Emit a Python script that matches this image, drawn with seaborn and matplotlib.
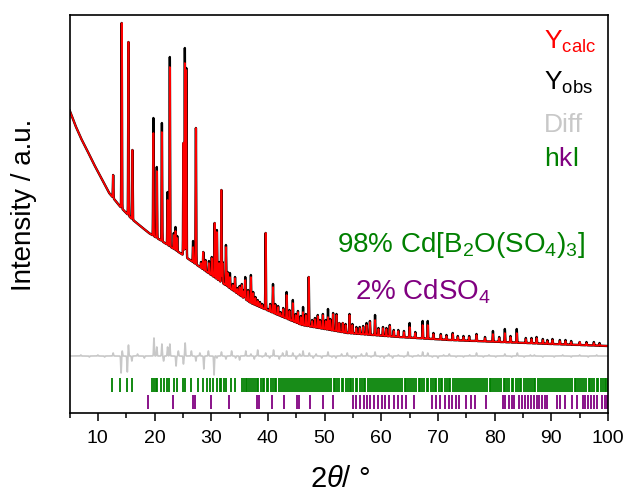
import numpy as np
import pandas as pd
import matplotlib
matplotlib.use("Agg")
import matplotlib.pyplot as plt
import seaborn as sns

# background of the pattern (2theta, intensity)
bg_tt = [5, 6, 7, 8, 9.2, 10.5, 12, 14, 16, 19, 21, 24.5, 28, 32, 37, 41, 46, 50, 54, 63, 72, 81, 90, 100]
bg_int = [303, 288, 275, 264, 250, 236, 220, 206, 194, 180, 173, 160, 146, 130, 110, 100, 88, 84, 80, 76, 73, 71, 69, 67]

# reflections: position, top of Ycalc, top of Yobs
peak_tt = [12.7, 14.2, 15.4, 16.1, 19.8, 20.4, 21.3, 22.3, 22.7, 23.4, 23.7, 24.0,
           25.1, 25.35, 25.6, 26.8, 27.3, 28.2, 28.6, 29.0, 29.6, 30.1, 30.6, 31.0,
           31.4, 31.8, 32.0, 32.6, 32.9, 33.3, 33.8, 34.2, 34.6, 35.0, 35.4, 35.8,
           36.0, 36.5, 37.0, 37.4, 37.8, 38.2, 38.6, 39.0, 39.6, 40.0, 40.4, 40.9,
           41.3, 41.8, 42.2, 42.7, 43.3, 43.8, 44.4, 44.9, 45.3, 45.8, 46.2, 46.7,
           47.2, 47.8, 48.3, 48.8, 49.2, 49.7, 50.2, 50.6, 51.0, 51.5, 52.1, 52.6,
           53.2, 53.7, 54.4, 54.9, 55.6, 56.2, 56.8, 57.4, 58.0, 58.9, 59.5, 60.3,
           60.9, 61.5, 62.2, 63.0, 64.0, 65.0, 66.0, 67.3, 68.2, 69.2, 70.5, 71.5,
           72.6, 73.5, 74.5, 75.5, 76.8, 78.3, 79.7, 80.8, 81.8, 82.8, 83.9, 85.5,
           86.5, 87.4, 88.5, 89.3, 90.2, 91.5, 92.5, 93.5, 95.0, 96.2, 97.5, 98.5]
calc_top = [238, 390, 371, 263, 280, 242, 281, 213, 346, 178, 182, 175,
            270, 350, 343, 166, 285, 150, 161, 152, 150, 155, 190, 181,
            150, 223, 150, 166, 140, 136, 128, 135, 124, 126, 128, 122,
            133, 122, 136, 120, 115, 112, 110, 108, 180, 103, 108, 126,
            108, 106, 100, 104, 118, 102, 110, 98, 101, 96, 101, 98,
            136, 92, 94, 97, 92, 98, 92, 96, 93, 99, 98, 90,
            90, 88, 98, 88, 85, 85, 86, 88, 91, 93, 84, 85,
            84, 87, 82, 82, 81, 86, 80, 88, 88, 79, 78, 77,
            79, 76, 76, 76, 78, 75, 79, 75, 80, 76, 80, 74,
            74, 75, 73, 72, 73, 72, 72, 71, 71, 70, 70, 69]
obs_top = [238, 390, 371, 263, 295, 246, 290, 221, 356, 180, 186, 177,
           270, 365, 345, 172, 285, 151, 161, 153, 152, 156, 190, 183,
           151, 223, 151, 168, 141, 140, 129, 136, 125, 127, 129, 123,
           136, 123, 138, 121, 116, 113, 111, 109, 180, 104, 109, 129,
           109, 107, 101, 105, 121, 103, 113, 99, 102, 97, 106, 99,
           136, 93, 95, 98, 93, 99, 93, 104, 94, 100, 99, 90,
           90, 89, 99, 89, 86, 86, 87, 90, 92, 98, 85, 86,
           85, 88, 83, 83, 82, 90, 81, 92, 92, 80, 79, 78,
           80, 77, 77, 77, 79, 76, 82, 76, 84, 77, 84, 75,
           75, 76, 74, 73, 74, 73, 73, 72, 71, 71, 71, 70]

# difference curve
diff_base = 57
diff_tt = [7.0, 8.5, 10.0, 11.2, 12.7, 14.1, 14.3, 15.2, 15.4, 16.0, 17.0, 18.2,
           19.9, 20.4, 21.3, 21.6, 22.3, 22.7, 23.8, 24.2, 25.1, 25.4, 26.5, 27.3,
           28.0, 28.7, 29.5, 30.5, 31.0, 31.8, 32.6, 33.6, 34.3, 35.0, 36.1, 37.0,
           37.6, 38.2, 39.0, 39.6, 40.3, 41.0, 42.0, 42.6, 43.3, 44.4, 45.0, 45.6,
           46.2, 47.3, 48.0, 48.5, 49.5, 50.6, 51.3, 52.0, 53.0, 54.0, 54.8, 55.5,
           56.5, 57.4, 58.2, 58.9, 59.8, 60.5, 61.3, 62.0, 63.0, 64.0, 64.7, 65.5,
           66.5, 67.3, 68.2, 69.0, 70.0, 71.0, 72.0, 73.2, 74.5, 75.6, 76.8, 78.0,
           79.0, 80.2, 81.8, 83.0, 84.0, 85.2, 86.3, 87.0, 88.5, 90.5, 92.0, 93.5,
           95.0, 96.5, 98.0, 99.2]
diff_val = [58, 56, 58, 56, 60, 40, 62, 41, 68, 52, 59, 55,
            75, 66, 69, 52, 66, 69, 47, 62, 49, 70, 62, 52,
            60, 44, 62, 38, 55, 61, 54, 62, 55, 53, 62, 59,
            54, 63, 56, 60, 55, 63, 54, 60, 62, 60, 54, 59,
            62, 60, 55, 59, 55, 61, 56, 55, 59, 60, 55, 55,
            59, 60, 56, 61, 56, 55, 59, 55, 58, 56, 61, 56,
            58, 61, 60, 56, 55, 58, 59, 56, 56, 58, 60, 56,
            58, 56, 59, 56, 60, 56, 58, 58, 56, 56, 58, 56,
            58, 56, 58, 57]

# tick marks of the two phases
hkl_main = [12.5, 13.9, 15.2, 16.1,
            19.6, 19.9, 20.2, 20.5, 21.2, 21.6, 22.2, 22.5, 23.5, 23.9, 25.0, 25.4,
            26.5, 27.6, 28.5, 29.3, 29.8, 30.4, 31.0, 31.5, 31.8, 32.3, 32.6, 33.5,
            34.2, 35.4, 35.7, 36.1, 36.4, 36.7, 37.1, 37.3, 37.7, 38.1, 38.3, 38.8,
            39.1, 39.4, 39.8, 40.1, 40.5, 40.9, 41.2, 41.5, 41.9, 42.3, 42.6, 43.0,
            43.3, 43.7, 44.1, 44.4, 44.7, 45.1, 45.5, 45.8, 46.2, 46.6, 46.9, 47.2,
            47.6, 48.0, 48.3, 48.7, 49.1, 49.4, 49.7, 50.1, 50.5, 50.8, 51.2, 51.6,
            51.9, 52.2, 52.6, 53.0, 53.3, 53.7, 54.1, 54.4, 54.7, 55.1, 55.5, 55.8,
            56.2, 56.6, 56.9, 57.2, 57.6, 58.0, 58.3, 58.7, 59.1, 59.4, 59.7, 60.1,
            60.5, 60.8, 61.2, 61.6, 61.9, 62.2, 62.6, 63.0, 63.3, 63.7, 64.1, 64.4,
            64.7, 65.1, 65.5, 65.8, 66.2, 66.6, 66.9, 67.2, 67.6, 68.0, 68.3, 68.7,
            69.1, 69.4, 69.7, 70.1, 70.5, 70.8, 71.2, 71.6, 71.9, 72.2, 72.6, 73.0,
            73.3, 73.7, 74.1, 74.4, 74.7, 75.1, 75.5, 75.8, 76.2, 76.6, 76.9, 77.2,
            77.6, 78.0, 78.3, 78.7, 79.1, 79.4, 79.7, 80.1, 80.5, 80.8, 81.2, 81.6,
            81.9, 82.2, 82.6, 83.0, 83.3, 83.7, 84.1, 84.4, 84.7, 85.1, 85.5, 85.8,
            86.2, 86.6, 86.9, 87.2, 87.6, 88.0, 88.3, 88.7, 89.1, 89.4, 89.7, 90.1,
            90.5, 90.8, 91.2, 91.6, 91.9, 92.2, 92.6, 93.0, 93.3, 93.7, 94.1, 94.4,
            94.7, 95.1, 95.5, 95.8, 96.2, 96.6, 96.9, 97.2, 97.6, 98.0, 98.3, 98.7,
            99.1, 99.4, 99.7, 100.0]
hkl_cdso4 = [18.8, 23.3, 26.8, 27.1, 30.0, 33.1, 38.1, 38.4, 40.7, 42.9, 45.2, 45.5,
             47.4, 49.7, 51.5, 55.0, 55.5, 56.2, 56.9, 57.5, 58.1, 58.7, 59.4, 60.1,
             60.6, 61.3, 62.2, 62.9, 63.6, 64.3, 65.7, 69.0, 69.6, 70.3, 71.2, 71.9,
             72.4, 73.1, 73.8, 74.9, 75.9, 76.5, 78.4, 81.4, 81.8, 82.6, 83.1, 83.5,
             84.3, 84.8, 85.3, 85.9, 86.4, 86.9, 87.4, 87.9, 88.4, 88.8, 89.3, 91.0,
             91.5, 92.5, 93.6, 94.5, 95.6, 96.0, 96.5, 97.0, 97.5, 98.0, 98.9, 99.4,
             99.9]


def profile(tt, pos, tops, base_tt, base_int, width=0.045):
    base = np.interp(tt, base_tt, base_int)
    y = base.copy()
    for p, h in zip(pos, tops):
        amp = h - np.interp(p, base_tt, base_int)
        y += amp * np.exp(-0.5 * ((tt - p) / width) ** 2)
    return y


tt = np.arange(5, 100.0001, 0.01)
df = pd.DataFrame({
    "tt": tt,
    "calc": profile(tt, peak_tt, calc_top, bg_tt, bg_int),
    "obs": profile(tt, peak_tt, obs_top, bg_tt, bg_int),
    "diff": profile(tt, diff_tt, diff_val, [5, 100], [diff_base, diff_base], 0.06),
})

sns.set_style("white")
plt.rcParams["font.family"] = ["Liberation Sans", "DejaVu Sans"]
plt.rcParams["mathtext.fontset"] = "custom"
plt.rcParams["mathtext.rm"] = "Liberation Sans"
plt.rcParams["mathtext.it"] = "Liberation Sans:italic"

W, H = 628, 493
fig = plt.figure(figsize=(W / 100, H / 100), dpi=100)
ax = fig.add_axes([69.5 / W, 1 - 413 / H, (608 - 69.5) / W, (413 - 15) / H])

sns.lineplot(data=df, x="tt", y="diff", ax=ax, color="#c8c8c8", lw=1.2, estimator=None, sort=False)
sns.lineplot(data=df, x="tt", y="obs", ax=ax, color="black", lw=1.7, estimator=None, sort=False)
sns.lineplot(data=df, x="tt", y="calc", ax=ax, color="#ff0000", lw=1.2, estimator=None, sort=False)

ax.vlines(hkl_main, 21, 35, color="#008000", lw=1.3)
ax.vlines(hkl_cdso4, 4, 18, color="#800080", lw=1.3)

ax.set_xlim(5, 100)
ax.set_ylim(0, 398)
ax.set_xlabel("")
ax.set_ylabel("")
ax.set_yticks([])
ax.set_xticks(range(10, 101, 10))
ax.set_xticks(range(5, 101, 10), minor=True)
ax.tick_params(axis="x", which="major", direction="out", length=6, width=1.1,
               labelsize=14, pad=6, bottom=True, top=False, color="black", labelcolor="black")
ax.tick_params(axis="x", which="minor", direction="out", length=3.5, width=1.1,
               bottom=True, top=False, color="black")
for s in ax.spines.values():
    s.set_linewidth(1.2)
    s.set_color("black")


def px(x, y):
    return x / W, 1 - y / H


fs_leg = 19
fig.text(*px(544, 49), r"Y$_{\mathrm{calc}}$", color="#ff0000", fontsize=fs_leg, va="baseline")
fig.text(*px(544, 90), r"Y$_{\mathrm{obs}}$", color="black", fontsize=fs_leg, va="baseline")
fig.text(*px(544, 132), "Diff", color="#c8c8c8", fontsize=fs_leg, va="baseline")
t_h = fig.text(*px(544, 166), "h", color="#008000", fontsize=fs_leg, va="baseline")
t_k = ax.annotate("k", xy=(1, 0), xycoords=t_h, color="#800080", fontsize=fs_leg, va="bottom")
ax.annotate("l", xy=(1, 0), xycoords=t_k, color="#008000", fontsize=fs_leg, va="bottom")

fig.text(*px(337, 252), r"98% Cd[B$_2$O(SO$_4$)$_3$]", color="#008000", fontsize=20, va="baseline")
fig.text(*px(355, 300), r"2% CdSO$_4$", color="#800080", fontsize=20, va="baseline")

fig.text(*px(24, 205), "Intensity / a.u.", rotation=90, fontsize=20, ha="center", va="center", color="black")
fig.text(*px(340, 487), r"2$\theta$/ °", fontsize=21, ha="center", va="baseline", color="black")

fig.savefig("out.png", dpi=100)
